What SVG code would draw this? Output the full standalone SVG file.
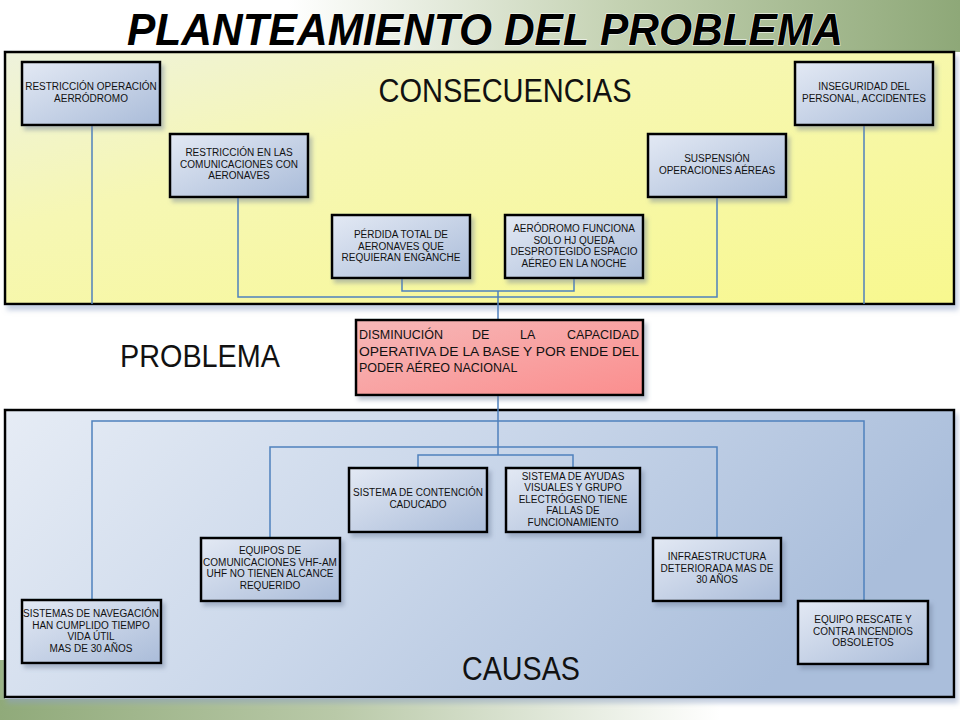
<svg xmlns="http://www.w3.org/2000/svg" width="960" height="720" viewBox="0 0 960 720">
<defs>
<linearGradient id="topband" x1="0" y1="0" x2="1" y2="0">
<stop offset="0" stop-color="#ffffff"/>
<stop offset="0.3" stop-color="#ffffff"/>
<stop offset="0.65" stop-color="#c3d1b1"/>
<stop offset="1" stop-color="#8ea878"/>
</linearGradient>
<linearGradient id="botband" x1="0" y1="0" x2="1" y2="0">
<stop offset="0" stop-color="#90aa7a"/>
<stop offset="0.35" stop-color="#b9c9a8"/>
<stop offset="0.75" stop-color="#ffffff"/>
<stop offset="1" stop-color="#ffffff"/>
</linearGradient>
<linearGradient id="yellow" x1="0" y1="0" x2="1" y2="1">
<stop offset="0" stop-color="#eef2dc"/>
<stop offset="0.35" stop-color="#f6f7b4"/>
<stop offset="1" stop-color="#f8f88e"/>
</linearGradient>
<linearGradient id="blue" x1="0" y1="0" x2="1" y2="0.3">
<stop offset="0" stop-color="#e6ecf5"/>
<stop offset="0.5" stop-color="#cad7ea"/>
<stop offset="1" stop-color="#aabedb"/>
</linearGradient>
<linearGradient id="box" x1="0" y1="0" x2="1" y2="1">
<stop offset="0" stop-color="#e3e9f4"/>
<stop offset="1" stop-color="#aabcd9"/>
</linearGradient>
<linearGradient id="red" x1="0" y1="0" x2="1" y2="1">
<stop offset="0" stop-color="#f6b8b8"/>
<stop offset="1" stop-color="#fb8e8e"/>
</linearGradient>
<filter id="sh" x="-10%" y="-10%" width="125%" height="130%">
<feDropShadow dx="3" dy="4" stdDeviation="2" flood-color="#6f7f99" flood-opacity="0.45"/>
</filter>
<filter id="psh" x="-2%" y="-5%" width="104%" height="112%">
<feDropShadow dx="3" dy="5" stdDeviation="2.5" flood-color="#8ea2c4" flood-opacity="0.5"/>
</filter>
</defs>
<style>
.node rect{fill:url(#box);stroke:#000;stroke-width:2.5;filter:url(#sh)}
.node text{font-family:"Liberation Sans",Arial,sans-serif;font-size:10px;fill:#111;text-anchor:middle}
.conn{fill:none;stroke:#4f81bd;stroke-width:1.5}
.big{font-family:"Liberation Sans",Arial,sans-serif;fill:#111}
</style>
<rect x="0" y="0" width="960" height="720" fill="#fff"/>
<rect x="0" y="0" width="960" height="52" fill="url(#topband)"/>
<rect x="0" y="699" width="960" height="21" fill="url(#botband)"/>
<rect x="0" y="660" width="5" height="40" fill="#9bb487"/>
<text x="485" y="45" text-anchor="middle" font-family="Liberation Sans,Arial,sans-serif" font-weight="bold" font-style="italic" font-size="44" textLength="716" lengthAdjust="spacingAndGlyphs" fill="#000" stroke="#fff" stroke-width="1" paint-order="stroke">PLANTEAMIENTO DEL PROBLEMA</text>

<g id="panel-consecuencias">
<rect x="5" y="52" width="949" height="252" fill="url(#yellow)" stroke="#000" stroke-width="2.5" filter="url(#psh)"/>
<text class="big" x="505" y="102" text-anchor="middle" font-size="33" textLength="253" lengthAdjust="spacingAndGlyphs">CONSECUENCIAS</text>
</g>
<g id="panel-causas">
<rect x="5" y="410" width="949" height="287" fill="url(#blue)" stroke="#000" stroke-width="2.5" filter="url(#psh)"/>
<text class="big" x="521" y="680" text-anchor="middle" font-size="34" textLength="118" lengthAdjust="spacingAndGlyphs">CAUSAS</text>
</g>
<text id="label-problema" class="big" x="120" y="367" font-size="31" textLength="160" lengthAdjust="spacingAndGlyphs">PROBLEMA</text>

<g id="connectors">
<path class="conn" d="M92 125V304"/>
<path class="conn" d="M864 125V304"/>
<path class="conn" d="M238 198V297H717V198"/>
<path class="conn" d="M402 278V291H574V278"/>
<path class="conn" d="M498 291V320"/>
<path class="conn" d="M498 395V455"/>
<path class="conn" d="M92 600V421H864V601"/>
<path class="conn" d="M270 538V447H717V538"/>
<path class="conn" d="M418 468V455H573V468"/>
</g>

<g id="c-restriccion-operacion" class="node">
<rect x="22" y="62" width="138" height="63"/>
<text x="91" y="90">RESTRICCIÓN OPERACIÓN<tspan x="91" dy="11.5">AERRÓDROMO</tspan></text>
</g>
<g id="c-inseguridad" class="node">
<rect x="795" y="62" width="138" height="63"/>
<text x="864" y="90">INSEGURIDAD DEL<tspan x="864" dy="11.5">PERSONAL, ACCIDENTES</tspan></text>
</g>
<g id="c-restriccion-comunicaciones" class="node">
<rect x="170" y="134" width="138" height="63"/>
<text x="239" y="156">RESTRICCIÓN EN LAS<tspan x="239" dy="11.5">COMUNICACIONES CON</tspan><tspan x="239" dy="11.5">AERONAVES</tspan></text>
</g>
<g id="c-suspension" class="node">
<rect x="648" y="134" width="138" height="63"/>
<text x="717" y="162">SUSPENSIÓN<tspan x="717" dy="11.5">OPERACIONES AÉREAS</tspan></text>
</g>
<g id="c-perdida" class="node">
<rect x="332" y="215" width="138" height="63"/>
<text x="401" y="238">PÉRDIDA TOTAL DE<tspan x="401" dy="11.5">AERONAVES QUE</tspan><tspan x="401" dy="11.5">REQUIERAN ENGANCHE</tspan></text>
</g>
<g id="c-aerodromo" class="node">
<rect x="505" y="215" width="138" height="63"/>
<text x="574" y="232">AERÓDROMO FUNCIONA<tspan x="574" dy="11.5">SOLO HJ QUEDA</tspan><tspan x="574" dy="11.5">DESPROTEGIDO ESPACIO</tspan><tspan x="574" dy="11.5">AÉREO EN LA NOCHE</tspan></text>
</g>

<g id="problema">
<rect x="356" y="320" width="287" height="75" fill="url(#red)" stroke="#000" stroke-width="2.5" filter="url(#sh)"/>
<g font-family="Liberation Sans,Arial,sans-serif" font-size="12.5" fill="#111">
<text x="359" y="339">DISMINUCIÓN</text>
<text x="472" y="339">DE</text>
<text x="520" y="339">LA</text>
<text x="639" y="339" text-anchor="end">CAPACIDAD</text>
<text x="359" y="356" textLength="280" lengthAdjust="spacingAndGlyphs">OPERATIVA DE LA BASE Y POR ENDE DEL</text>
<text x="359" y="372">PODER AÉREO NACIONAL</text>
</g>
</g>

<g id="k-contencion" class="node">
<rect x="349" y="468" width="138" height="64"/>
<text x="418" y="496">SISTEMA DE CONTENCIÓN<tspan x="418" dy="11.5">CADUCADO</tspan></text>
</g>
<g id="k-ayudas" class="node">
<rect x="506" y="468" width="134" height="64"/>
<text x="573" y="479.5">SISTEMA DE AYUDAS<tspan x="573" dy="11.6">VISUALES Y GRUPO</tspan><tspan x="573" dy="11.6">ELECTRÓGENO TIENE</tspan><tspan x="573" dy="11.6">FALLAS DE</tspan><tspan x="573" dy="11.6">FUNCIONAMIENTO</tspan></text>
</g>
<g id="k-equipos" class="node">
<rect x="201" y="538" width="139" height="63"/>
<text x="270" y="554">EQUIPOS DE<tspan x="270" dy="11.5">COMUNICACIONES VHF-AM</tspan><tspan x="270" dy="11.5">UHF NO TIENEN ALCANCE</tspan><tspan x="270" dy="11.5">REQUERIDO</tspan></text>
</g>
<g id="k-infraestructura" class="node">
<rect x="653" y="538" width="128" height="63"/>
<text x="717" y="560">INFRAESTRUCTURA<tspan x="717" dy="11.5">DETERIORADA MAS DE</tspan><tspan x="717" dy="11.5">30 AÑOS</tspan></text>
</g>
<g id="k-navegacion" class="node">
<rect x="22" y="600" width="139" height="63"/>
<text x="91" y="617">SISTEMAS DE NAVEGACIÓN<tspan x="91" dy="11.5">HAN CUMPLIDO TIEMPO</tspan><tspan x="91" dy="11.5">VIDA ÚTIL</tspan><tspan x="91" dy="11.5">MAS DE 30 AÑOS</tspan></text>
</g>
<g id="k-rescate" class="node">
<rect x="798" y="601" width="130" height="63"/>
<text x="863" y="623">EQUIPO RESCATE Y<tspan x="863" dy="11.5">CONTRA INCENDIOS</tspan><tspan x="863" dy="11.5">OBSOLETOS</tspan></text>
</g>
</svg>
